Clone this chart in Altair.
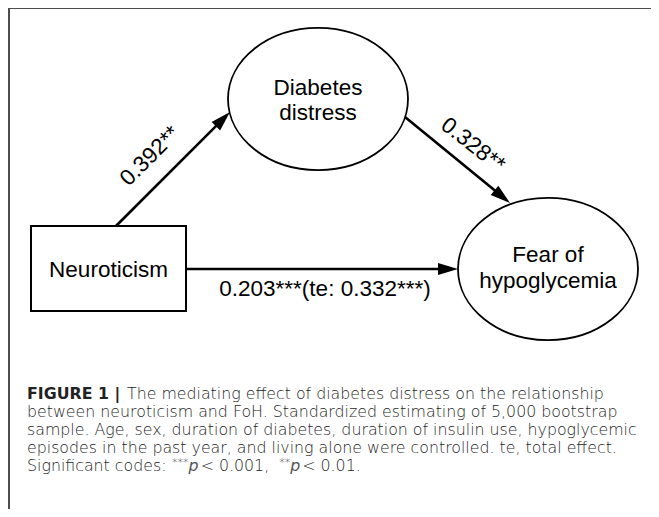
import math
import altair as alt
import pandas as pd

# ---------------- data (diagram content) ----------------
ellipse_names = ["Diabetes distress", "Fear of hypoglycemia"]
ellipse_cx = [318, 548]
ellipse_cy = [99, 269]

box_name = "Neuroticism"
box_x = [31]
box_x2 = [186]
box_y = [226]
box_y2 = [311]

arrow_from_x = [116, 405, 186]
arrow_from_y = [226, 117, 269]
arrow_to_x = [230, 510, 458]
arrow_to_y = [112, 203, 269]

node_text = ["Diabetes", "distress", "Fear of", "hypoglycemia", "Neuroticism"]
node_text_x = [318, 318, 548, 548, 108.5]
node_text_y = [95, 120, 262, 288, 277]

edge_text = ["0.392**", "0.328**", "0.203***(te: 0.332***)"]
edge_text_x = [150, 473, 325]
edge_text_y = [156, 145, 289]
edge_text_angle = [315, 38, 0]

caption_bold = ["FIGURE 1 |"]
caption_lines = [
    "The mediating effect of diabetes distress on the relationship",
    "between neuroticism and FoH. Standardized estimating of 5,000 bootstrap",
    "sample. Age, sex, duration of diabetes, duration of insulin use, hypoglycemic",
    "episodes in the past year, and living alone were controlled. te, total effect.",
]
caption_line_x = [127, 27, 27, 27]
caption_line_y = [399, 417, 435, 453]
caption_last = ["Significant codes: ", "***", "p", " < 0.001, ", "**", "p", " < 0.01."]
caption_last_style = ["normal", "sup", "italic", "normal", "sup", "italic", "normal"]
caption_last_y = 471

# ---------------- geometry helpers ----------------
W, H = 643, 501
xs = alt.Scale(domain=[8, 8 + W], nice=False, zero=False)
ys = alt.Scale(domain=[8, 8 + H], nice=False, zero=False, reverse=True)

def X(f):
    return alt.X(f, type="quantitative", scale=xs, axis=None)

def Y(f):
    return alt.Y(f, type="quantitative", scale=ys, axis=None)

k = 0.5523
r = 0.79
ELLIPSE = (
    f"M -1 0 C -1 {-k*r:.4f} {-k:.4f} {-r} 0 {-r} "
    f"C {k:.4f} {-r} 1 {-k*r:.4f} 1 0 "
    f"C 1 {k*r:.4f} {k:.4f} {r} 0 {r} "
    f"C {-k:.4f} {r} -1 {k*r:.4f} -1 0 Z"
)
HEAD = "M 0 0 L 0.3 1 L -0.3 1 Z"
HEAD_LEN = 20

DIAG_FONT = "Liberation Sans"
CAP_FONT = "DejaVu Sans"
CAP_SIZE = 15.8
SUP_SIZE = 11
CAP_COLOR = "#1e1e1e"

# approximate DejaVu Sans advance widths (em) for laying out the last caption line
DV = {"S": .635, "i": .278, "g": .635, "n": .634, "f": .352, "c": .550, "a": .613,
      "t": .392, " ": .318, "o": .612, "d": .635, "e": .615, "s": .521, ":": .337,
      "*": .500, "p": .635, "<": .838, "0": .636, ".": .318, "1": .636, ",": .318}

# ---------------- tables ----------------
ell_df = pd.DataFrame({"name": ellipse_names, "x": ellipse_cx, "y": ellipse_cy})
box_df = pd.DataFrame({"x": box_x, "x2": box_x2, "y": box_y, "y2": box_y2})

rows = []
for x1, y1, x2, y2 in zip(arrow_from_x, arrow_from_y, arrow_to_x, arrow_to_y):
    dx, dy = x2 - x1, y2 - y1
    L = math.hypot(dx, dy)
    ux, uy = dx / L, dy / L
    ang = math.degrees(math.atan2(dx, -dy)) % 360
    rows.append({"x1": x1, "y1": y1, "xe": x2 - ux * (HEAD_LEN - 4), "ye": y2 - uy * (HEAD_LEN - 4),
                 "tx": x2, "ty": y2, "ang": ang})
arr_df = pd.DataFrame(rows)

node_df = pd.DataFrame({"t": node_text, "x": node_text_x, "y": node_text_y})
edge_df = pd.DataFrame({"t": edge_text, "x": edge_text_x, "y": edge_text_y, "a": edge_text_angle})

cap_df = pd.DataFrame({"t": caption_lines, "x": caption_line_x, "y": caption_line_y})
bold_df = pd.DataFrame({"t": caption_bold, "x": [27], "y": [caption_line_y[0]]})

seg_x, seg_y = [], []
cx = 27.0
for seg, st in zip(caption_last, caption_last_style):
    size = SUP_SIZE if st == "sup" else CAP_SIZE
    seg_x.append(cx)
    seg_y.append(caption_last_y - (5 if st == "sup" else 0))
    cx += sum(DV.get(ch, 0.6) for ch in seg) * size + (2 if st == "italic" else 0)
last_df = pd.DataFrame({"t": caption_last, "x": seg_x, "y": seg_y, "s": caption_last_style})

frame_df = pd.DataFrame({"x": [9, 9], "y": [8, 8], "x2": [8 + W, 9], "y2": [8, 8 + H]})

frame = alt.Chart(frame_df).mark_rule(color="#4d4d4d", strokeWidth=2).encode(
    x=X("x"), y=Y("y"), x2="x2", y2="y2")

ellipses = alt.Chart(ell_df).mark_point(
    shape=ELLIPSE, size=180 * 180, filled=False, color="black", strokeWidth=1.8, opacity=1
).encode(x=X("x"), y=Y("y"))

box = alt.Chart(box_df).mark_rect(fill="white", stroke="black", strokeWidth=2).encode(
    x=X("x"), x2="x2", y=Y("y"), y2="y2")

lines = alt.Chart(arr_df).mark_rule(color="black", strokeWidth=2.6).encode(
    x=X("x1"), y=Y("y1"), x2="xe", y2="ye")

heads = alt.Chart(arr_df).mark_point(
    shape=HEAD, size=(2 * HEAD_LEN) ** 2, filled=True, color="black", opacity=1, strokeWidth=0
).encode(x=X("tx"), y=Y("ty"), angle=alt.Angle("ang:Q", scale=None))

nodes = alt.Chart(node_df).mark_text(
    font=DIAG_FONT, fontSize=22.5, color="black", align="center", baseline="alphabetic"
).encode(x=X("x"), y=Y("y"), text="t:N")

edges = alt.Chart(edge_df).mark_text(
    font=DIAG_FONT, fontSize=22.5, color="black", align="center", baseline="middle"
).encode(x=X("x"), y=Y("y"), text="t:N", angle=alt.Angle("a:Q", scale=None))

cap_bold = alt.Chart(bold_df).mark_text(
    font=CAP_FONT, fontSize=CAP_SIZE, fontWeight="bold", color="#222222", align="left", baseline="alphabetic"
).encode(x=X("x"), y=Y("y"), text="t:N")

cap = alt.Chart(cap_df).mark_text(
    font=CAP_FONT, fontSize=CAP_SIZE, fontWeight=300, color=CAP_COLOR, align="left", baseline="alphabetic"
).encode(x=X("x"), y=Y("y"), text="t:N")

last_norm = alt.Chart(last_df[last_df.s == "normal"]).mark_text(
    font=CAP_FONT, fontSize=CAP_SIZE, fontWeight=300, color=CAP_COLOR, align="left", baseline="alphabetic"
).encode(x=X("x"), y=Y("y"), text="t:N")
last_it = alt.Chart(last_df[last_df.s == "italic"]).mark_text(
    font=CAP_FONT, fontSize=CAP_SIZE, fontStyle="italic", color="#555555",
    align="left", baseline="alphabetic"
).encode(x=X("x"), y=Y("y"), text="t:N")
last_sup = alt.Chart(last_df[last_df.s == "sup"]).mark_text(
    font=CAP_FONT, fontSize=SUP_SIZE, fontWeight=300, color=CAP_COLOR, align="left", baseline="alphabetic"
).encode(x=X("x"), y=Y("y"), text="t:N")

chart = alt.layer(
    frame, lines, heads, ellipses, box, nodes, edges, cap_bold, cap, last_norm, last_it, last_sup
).properties(
    width=W, height=H, padding=0, autosize=alt.AutoSizeParams(type="none")
).configure_view(stroke=None)

chart.save("out.html", embed_options={"renderer": "svg", "actions": False})
